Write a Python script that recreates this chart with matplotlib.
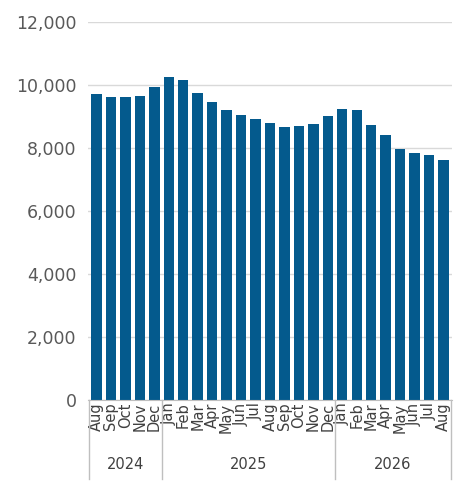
import matplotlib
matplotlib.use("Agg")
import matplotlib.pyplot as plt

months = ["Aug","Sep","Oct","Nov","Dec","Jan","Feb","Mar","Apr","May","Jun","Jul",
          "Aug","Sep","Oct","Nov","Dec","Jan","Feb","Mar","Apr","May","Jun","Jul","Aug"]
values = [9700,9600,9600,9650,9920,10250,10150,9750,9450,9200,9050,8900,
          8780,8650,8680,8750,9020,9230,9190,8730,8400,7960,7830,7760,7620]
years = ["2024","2025","2026"]
year_counts = [5,12,8]

fig = plt.figure(figsize=(4.72,4.84), dpi=100)
ax = fig.add_axes([0.186, 0.174, 0.772, 0.781])
x = list(range(len(values)))
ax.bar(x, values, width=0.72, color="#045a8d", zorder=2)
ax.set_xlim(-0.6, len(values)-0.4)
ax.set_ylim(0, 12000)
ax.set_yticks(range(0, 12001, 2000))
ax.set_yticklabels([f"{v:,}" for v in range(0, 12001, 2000)], fontsize=12.5, color="#595959")
ax.yaxis.grid(True, color="#d9d9d9", lw=1, zorder=0)
for s in ["top","right","left"]:
    ax.spines[s].set_visible(False)
ax.spines["bottom"].set_color("#bfbfbf")
ax.tick_params(axis="y", length=0, pad=8)
ax.set_xticks(x)
ax.set_xticklabels(months, rotation=90, fontsize=10.5, color="#404040")
ax.tick_params(axis="x", length=0, pad=2)

# year grouping
trans = ax.get_xaxis_transform()
start = -0.5
bounds = [start]
for c in year_counts:
    bounds.append(bounds[-1] + c)
for b in bounds:
    ax.plot([b, b], [0, -0.21], transform=trans, color="#bfbfbf", lw=1, clip_on=False)
for i, yname in enumerate(years):
    mid = (bounds[i] + bounds[i+1]) / 2
    ax.text(mid, -0.17, yname, transform=trans, ha="center", va="center",
            fontsize=10.5, color="#404040")
fig.savefig("out.png", dpi=100)
